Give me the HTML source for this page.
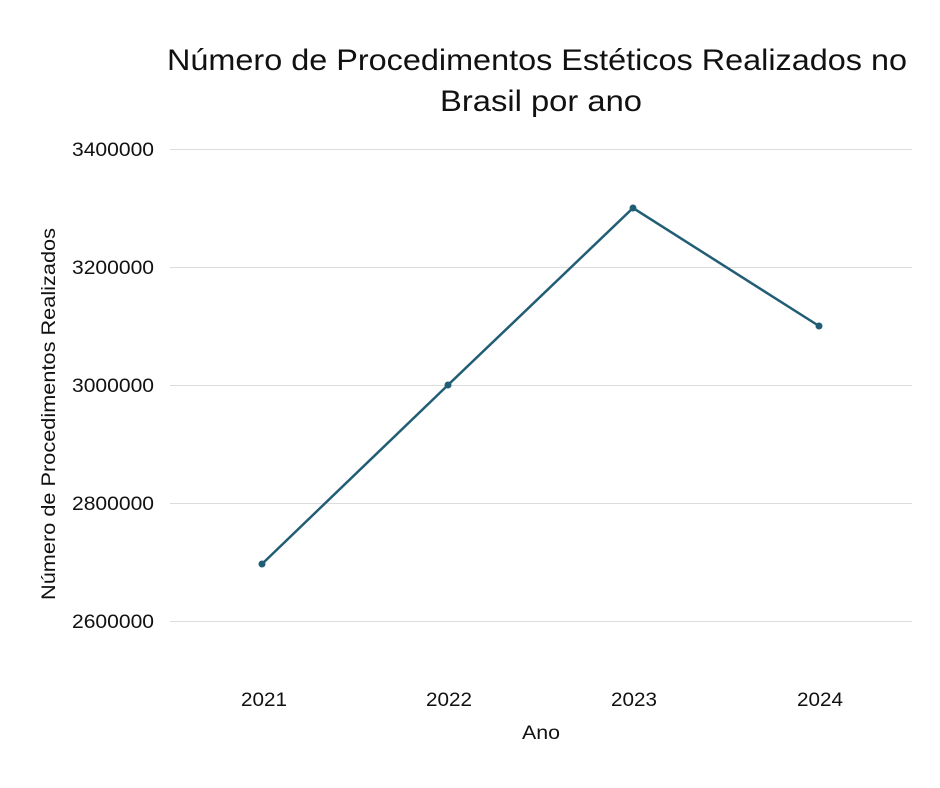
<!DOCTYPE html>
<html><head><meta charset="utf-8"><style>
html,body{margin:0;padding:0;background:#fff;}
svg{display:block;font-family:"Liberation Sans","DejaVu Sans",sans-serif;}
</style></head><body>
<svg width="940" height="788" xmlns="http://www.w3.org/2000/svg">
<rect width="940" height="788" fill="#fff"/>
<text x="537" y="70" font-size="30" text-anchor="middle" fill="#111" textLength="740" lengthAdjust="spacingAndGlyphs">Número de Procedimentos Estéticos Realizados no</text>
<text x="541" y="111" font-size="30" text-anchor="middle" fill="#111" textLength="202" lengthAdjust="spacingAndGlyphs">Brasil por ano</text>
<g stroke="#dcdcdc" stroke-width="1">
<line x1="170" y1="149.5" x2="912" y2="149.5"/>
<line x1="170" y1="267.5" x2="912" y2="267.5"/>
<line x1="170" y1="385.5" x2="912" y2="385.5"/>
<line x1="170" y1="503.5" x2="912" y2="503.5"/>
<line x1="170" y1="621.5" x2="912" y2="621.5"/>
</g>
<g font-size="19" fill="#111">
<text x="72" y="156" textLength="82" lengthAdjust="spacingAndGlyphs">3400000</text>
<text x="72" y="274" textLength="82" lengthAdjust="spacingAndGlyphs">3200000</text>
<text x="72" y="392" textLength="82" lengthAdjust="spacingAndGlyphs">3000000</text>
<text x="72" y="510" textLength="82" lengthAdjust="spacingAndGlyphs">2800000</text>
<text x="72" y="628" textLength="82" lengthAdjust="spacingAndGlyphs">2600000</text>
</g>
<g font-size="19" fill="#111" text-anchor="middle">
<text x="264" y="706" textLength="46" lengthAdjust="spacingAndGlyphs">2021</text>
<text x="449" y="706" textLength="46" lengthAdjust="spacingAndGlyphs">2022</text>
<text x="634" y="706" textLength="46" lengthAdjust="spacingAndGlyphs">2023</text>
<text x="820" y="706" textLength="46" lengthAdjust="spacingAndGlyphs">2024</text>
<text x="541" y="739" textLength="38" lengthAdjust="spacingAndGlyphs">Ano</text>
</g>
<text transform="translate(55,414) rotate(-90)" font-size="19" fill="#111" text-anchor="middle" textLength="372" lengthAdjust="spacingAndGlyphs">Número de Procedimentos Realizados</text>
<polyline points="262,564 448,385 633,208 819,326" fill="none" stroke="#215e75" stroke-width="2.5"/>
<g fill="#215e75">
<circle cx="262" cy="564" r="3.5"/><circle cx="448" cy="385" r="3.5"/>
<circle cx="633" cy="208" r="3.5"/><circle cx="819" cy="326" r="3.5"/>
</g>
</svg>
</body></html>
